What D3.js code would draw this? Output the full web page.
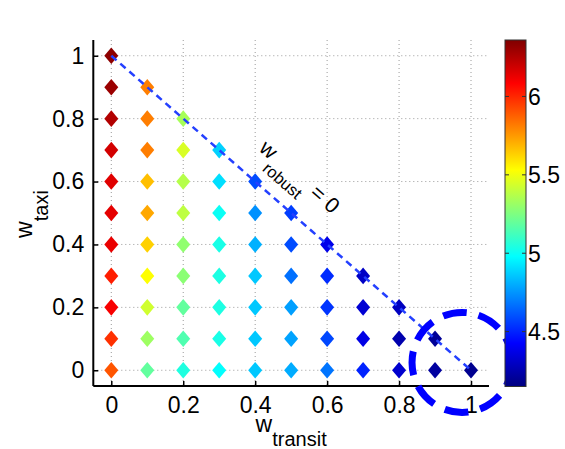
<!DOCTYPE html>
<html>
<head>
<meta charset="utf-8">
<script src="https://cdn.jsdelivr.net/npm/d3@7"></script>
<style>
  html, body { margin: 0; padding: 0; background: #fff; }
  svg text { font-family: "Liberation Sans", Arial, Helvetica, sans-serif; fill: #000; }
</style>
</head>
<body>
<svg id="chart" width="565" height="449"></svg>
<script>
// ---- data ----
const wTransit = [0, 0.1, 0.2, 0.3, 0.4, 0.5, 0.6, 0.7, 0.8, 0.9, 1.0];
const wTaxiStep = [0, 0.1, 0.2, 0.3, 0.4, 0.5, 0.6, 0.7, 0.8, 0.9, 1.0];
// values per w_transit column, listed from w_taxi = 0 upwards in steps of 0.1
const col00 = [5.90, 5.98, 6.10, 6.02, 6.13, 6.14, 6.15, 6.18, 6.25, 6.30, 6.33];
const col01 = [5.19, 5.32, 5.43, 5.53, 5.63, 5.72, 5.67, 5.81, 5.81, 5.81];
const col02 = [5.045, 5.15, 5.19, 5.28, 5.29, 5.39, 5.37, 5.45, 5.34];
const col03 = [4.98, 5.03, 5.04, 5.04, 5.03, 5.00, 4.91, 4.88];
const col04 = [4.86, 4.86, 4.86, 4.86, 4.81, 4.74, 4.59];
const col05 = [4.80, 4.78, 4.77, 4.67, 4.59, 4.56];
const col06 = [4.68, 4.58, 4.54, 4.52, 4.38];
const col07 = [4.50, 4.37, 4.33, 4.30];
const col08 = [4.32, 4.25, 4.29];
const col09 = [4.22, 4.20];
const col10 = [4.185];
const columns = [col00, col01, col02, col03, col04, col05, col06, col07, col08, col09, col10];

const xTicks = [0, 0.2, 0.4, 0.6, 0.8, 1];
const yTicks = [0, 0.2, 0.4, 0.6, 0.8, 1];
const xTickLabels = ["0", "0.2", "0.4", "0.6", "0.8", "1"];
const yTickLabels = ["0", "0.2", "0.4", "0.6", "0.8", "1"];
const cbDomain = [4.15, 6.36];
const cbTicks = [4.5, 5, 5.5, 6];
const cbTickLabels = ["4.5", "5", "5.5", "6"];
const annotation = { x: 0.408, y: 0.70, main: "w", sub: "robust", tail: " = 0" };
const highlight = { x: 0.975, y: 0.025 };

// ---- build points ----
const points = [];
columns.forEach((col, i) => {
  col.forEach((v, j) => {
    points.push({ x: wTransit[i], y: wTaxiStep[j], v: v });
  });
});

// ---- colormap (jet) ----
const clamp = t => Math.max(0, Math.min(1, t));
function jet(t) {
  const r = clamp(1.5 - Math.abs(4 * t - 3));
  const g = clamp(1.5 - Math.abs(4 * t - 2));
  const b = clamp(1.5 - Math.abs(4 * t - 1));
  return d3.rgb(r * 255, g * 255, b * 255).formatHex();
}
const color = d3.scaleSequential(jet).domain(cbDomain);

// ---- layout ----
const svg = d3.select("#chart");
const x = d3.scaleLinear().domain([-0.05, 1.05]).range([93.3, 489]);
const y = d3.scaleLinear().domain([-0.05, 1.05]).range([386, 40]);
const fontMain = 23;

// grid
const grid = svg.append("g");
grid.selectAll("line.v").data(xTicks).join("line")
  .attr("x1", d => x(d)).attr("x2", d => x(d))
  .attr("y1", y.range()[1]).attr("y2", y.range()[0])
  .attr("stroke", "#9a9a9a").attr("stroke-width", 1).attr("stroke-dasharray", "1,3");
grid.selectAll("line.h").data(yTicks).join("line")
  .attr("y1", d => y(d)).attr("y2", d => y(d))
  .attr("x1", x.range()[0]).attr("x2", x.range()[1])
  .attr("stroke", "#9a9a9a").attr("stroke-width", 1).attr("stroke-dasharray", "1,3");

// diamonds
const dw = 7, dh = 8.3;
svg.append("g").selectAll("path").data(points).join("path")
  .attr("d", d => {
    const cx = x(d.x), cy = y(d.y);
    return `M${cx},${cy - dh}L${cx + dw},${cy}L${cx},${cy + dh}L${cx - dw},${cy}Z`;
  })
  .attr("fill", d => color(d.v));

// dashed line w_robust = 0
svg.append("line")
  .attr("x1", x(0)).attr("y1", y(1)).attr("x2", x(1)).attr("y2", y(0))
  .attr("stroke", "#2440ff").attr("stroke-width", 2.5).attr("stroke-dasharray", "7,5");

// axes
const xAxis = d3.axisBottom(x).tickValues(xTicks).tickSize(-5).tickPadding(12)
  .tickFormat((d, i) => xTickLabels[i]);
const yAxis = d3.axisLeft(y).tickValues(yTicks).tickSize(-5).tickPadding(12)
  .tickFormat((d, i) => yTickLabels[i]);

const gx = svg.append("g").attr("transform", `translate(0,${y.range()[0]})`).call(xAxis);
const gy = svg.append("g").attr("transform", `translate(${x.range()[0]},0)`).call(yAxis);
[gx, gy].forEach(g => {
  g.select(".domain").attr("stroke", "#000").attr("stroke-width", 2);
  g.selectAll(".tick line").attr("stroke", "#000").attr("stroke-width", 1.5);
  g.selectAll(".tick text").attr("font-size", fontMain).attr("font-family", "Liberation Sans, Arial, sans-serif").attr("fill", "#000");
});
gx.select(".domain").attr("d", `M${x.range()[0]},0H${x.range()[1]}`);
gy.select(".domain").attr("d", `M0,${y.range()[1]}V${y.range()[0]}`);
gx.selectAll(".tick text").attr("dy", "0.71em").attr("y", 10.5);
gy.selectAll(".tick text").attr("x", -9);

// axis labels
const xl = svg.append("text").attr("x", (x.range()[0] + x.range()[1]) / 2).attr("y", 432)
  .attr("text-anchor", "middle").attr("font-size", fontMain);
xl.append("tspan").text("w");
xl.append("tspan").attr("font-size", 20).attr("dy", 14.3).text("transit");

const yl = svg.append("text")
  .attr("transform", `translate(32,${(y.range()[0] + y.range()[1]) / 2 + 1}) rotate(-90)`)
  .attr("text-anchor", "middle").attr("font-size", fontMain);
yl.append("tspan").text("w");
yl.append("tspan").attr("font-size", 20).attr("dy", 15.5).text("taxi");

// annotation along the line
const ang = Math.atan2(y(0) - y(1), x(1) - x(0)) * 180 / Math.PI;
const an = svg.append("text")
  .attr("transform", `translate(${x(annotation.x)},${y(annotation.y)}) rotate(${ang})`)
  .attr("font-size", 21.5);
an.append("tspan").text(annotation.main);
an.append("tspan").attr("font-size", 16.5).attr("dy", 12.7).text(annotation.sub);
an.append("tspan").attr("dy", -12.7).text(annotation.tail);

// highlight circle
svg.append("circle")
  .attr("cx", x(highlight.x)).attr("cy", y(highlight.y)).attr("r", 50)
  .attr("fill", "none").attr("stroke", "#0000ff").attr("stroke-width", 7)
  .attr("stroke-dasharray", "24,12");

// colorbar
const cbX = 505, cbW = 21;
const cbY = d3.scaleLinear().domain(cbDomain).range([386.5, 40]);
const defs = svg.append("defs");
const grad = defs.append("linearGradient").attr("id", "jetgrad")
  .attr("x1", 0).attr("y1", 1).attr("x2", 0).attr("y2", 0);
d3.range(0, 1.0001, 1 / 64).forEach(t => {
  grad.append("stop").attr("offset", t).attr("stop-color", color(cbDomain[0] + t * (cbDomain[1] - cbDomain[0])));
});
svg.append("rect").attr("x", cbX).attr("y", cbY.range()[1])
  .attr("width", cbW).attr("height", cbY.range()[0] - cbY.range()[1])
  .attr("fill", "url(#jetgrad)").attr("stroke", "#333").attr("stroke-width", 1);
const cbg = svg.append("g");
cbg.selectAll("line.r").data(cbTicks).join("line")
  .attr("x1", cbX + cbW - 4).attr("x2", cbX + cbW)
  .attr("y1", d => cbY(d)).attr("y2", d => cbY(d))
  .attr("stroke", "#333").attr("stroke-width", 1);
cbg.selectAll("line.l").data(cbTicks).join("line")
  .attr("x1", cbX).attr("x2", cbX + 4)
  .attr("y1", d => cbY(d)).attr("y2", d => cbY(d))
  .attr("stroke", "#333").attr("stroke-width", 1);
cbg.selectAll("text").data(cbTicks).join("text")
  .attr("x", cbX + cbW + 2).attr("y", d => cbY(d)).attr("dy", "0.36em")
  .attr("font-size", fontMain).text((d, i) => cbTickLabels[i]);
</script>
</body>
</html>
